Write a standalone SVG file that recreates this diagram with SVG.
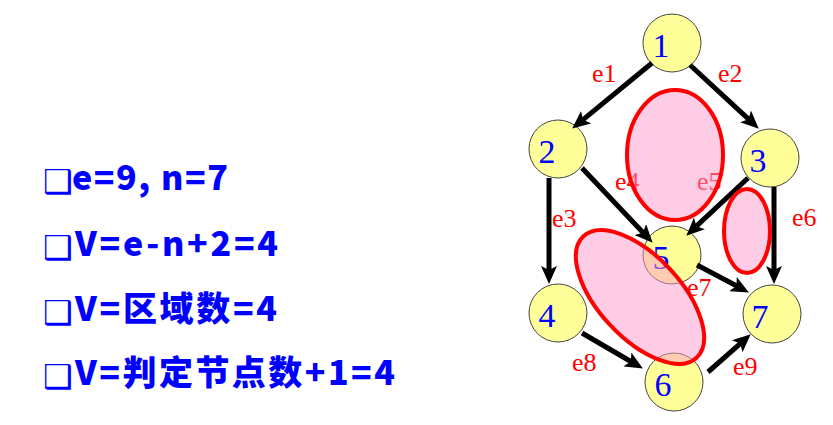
<svg xmlns="http://www.w3.org/2000/svg" width="833" height="425" viewBox="0 0 833 425">
<style>
.node circle{fill:#ffff99;stroke:#444;stroke-width:1}
.node text{font-family:"Liberation Serif","Times New Roman",serif;font-size:34px;fill:#0000ff;text-anchor:middle}
.edge{stroke:#000;stroke-width:5;fill:none;marker-end:url(#arr)}
.elab{font-family:"Liberation Serif","Times New Roman",serif;font-size:26px;fill:#ff0000}
.region{fill:#ff99cc;fill-opacity:0.5;stroke:#ff0000;stroke-width:4}
.line{font-family:"Noto Sans CJK SC","Noto Sans",sans-serif;font-weight:900;font-size:34px;fill:#0000ff}
.bul{font-family:"DejaVu Sans",sans-serif;font-size:33px;fill:#0000ff}
</style>
<defs>
<marker id="arr" markerUnits="userSpaceOnUse" markerWidth="18" markerHeight="16" refX="7" refY="8" orient="auto" viewBox="0 0 18 16">
<path d="M0,0 L18,8 L0,16 L4,8 z" fill="#000"/>
</marker>
</defs>
<rect width="833" height="425" fill="#fff"/>
<g id="text-left">
<text class="bul" x="43" y="193">❑</text><text class="line" x="72" y="190" textLength="156" lengthAdjust="spacing">e=9, n=7</text>
<text class="bul" x="43" y="259">❑</text><text class="line" x="75" y="256" textLength="203" lengthAdjust="spacing">V=e-n+2=4</text>
<text class="bul" x="43" y="324">❑</text><text class="line" x="75" y="321" textLength="202" lengthAdjust="spacing">V=区域数=4</text>
<text class="bul" x="43" y="388">❑</text><text class="line" x="75" y="385" textLength="320" lengthAdjust="spacing">V=判定节点数+1=4</text>
</g>
<g id="node1" class="node"><circle cx="672" cy="43" r="29"/><text x="661" y="57">1</text></g>
<g id="node2" class="node"><circle cx="558" cy="149" r="29"/><text x="547" y="163">2</text></g>
<g id="node3" class="node"><circle cx="770" cy="158" r="29"/><text x="758" y="172">3</text></g>
<g id="node4" class="node"><circle cx="558" cy="313" r="29"/><text x="547" y="327">4</text></g>
<g id="node5" class="node"><circle cx="672" cy="255" r="29"/><text x="661" y="269">5</text></g>
<g id="node6" class="node"><circle cx="674" cy="382" r="29"/><text x="663" y="396">6</text></g>
<g id="node7" class="node"><circle cx="772" cy="314" r="29"/><text x="760" y="328">7</text></g>
<g id="connectors">
<path class="edge" d="M652,63 L580.7,121.6"/>
<path class="edge" d="M690,65 L750.7,121.2"/>
<path class="edge" d="M549,178 L549,273"/>
<path class="edge" d="M582,168 L645.1,234.7"/>
<path class="edge" d="M748,178 L694.3,228.2"/>
<path class="edge" d="M774,187 L774,273"/>
<path class="edge" d="M697,265 L739.2,287.3"/>
<path class="edge" d="M582,333 L633.4,363"/>
<path class="edge" d="M708,372 L742.5,341.6"/>
</g>
<g id="edge-labels">
<text class="elab" x="592" y="82">e1</text>
<text class="elab" x="718" y="82">e2</text>
<text class="elab" x="552" y="227">e3</text>
<text class="elab" x="615" y="190">e4</text>
<text class="elab" x="697" y="190">e5</text>
<text class="elab" x="792" y="226">e6</text>
<text class="elab" x="687" y="296">e7</text>
<text class="elab" x="572" y="371">e8</text>
<text class="elab" x="733" y="375">e9</text>
</g>
<g id="regions">
<ellipse class="region" cx="675" cy="155" rx="48" ry="65"/>
<ellipse class="region" cx="747" cy="231" rx="23" ry="42"/>
<ellipse class="region" cx="640" cy="297" rx="83" ry="41" transform="rotate(47 640 297)"/>
</g>
</svg>
